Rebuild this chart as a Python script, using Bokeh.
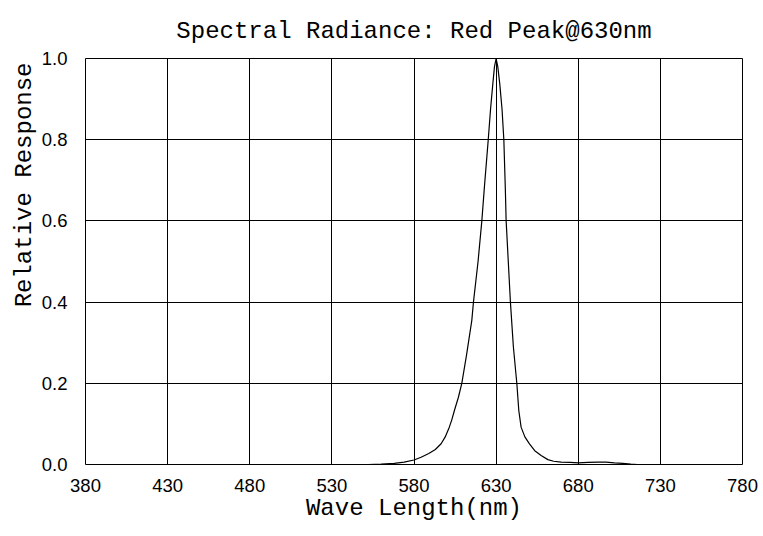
from bokeh.plotting import figure
from bokeh.models import Range1d, FixedTicker, Title
from bokeh.embed import file_html
from bokeh.resources import INLINE

title_text = "Spectral Radiance: Red Peak@630nm"
x_label = "Wave Length(nm)"
y_label = "Relative Response"
x_ticks = [380, 430, 480, 530, 580, 630, 680, 730, 780]
y_ticks = [0.0, 0.2, 0.4, 0.6, 0.8, 1.0]

wavelength = [552, 560, 568, 574, 580, 584.3, 589, 593, 596.5, 599, 601.5,
              603, 604.6, 607, 609.1, 612, 615.2, 616.2, 619, 621.3, 622.8,
              625.2, 626.6, 628, 629, 630, 631, 632.2, 633.6, 634.7, 635.6,
              636.1, 637.4, 638.7, 640.5, 642.6, 643.8, 645.2, 647.5, 650.3,
              653.5, 657.4, 661.5, 665, 669.6, 675, 680, 686, 692, 697, 702,
              707, 712, 716]
response = [0.0, 0.001, 0.003, 0.006, 0.011, 0.018, 0.027, 0.037, 0.051, 0.068,
            0.092, 0.11, 0.133, 0.165, 0.20, 0.27, 0.355, 0.40, 0.50, 0.60,
            0.68, 0.80, 0.875, 0.938, 0.98, 1.00, 0.98, 0.938, 0.875, 0.80,
            0.68, 0.60, 0.50, 0.40, 0.29, 0.20, 0.133, 0.092, 0.068, 0.051,
            0.034, 0.022, 0.012, 0.008, 0.006, 0.005, 0.004, 0.005, 0.006,
            0.006, 0.004, 0.003, 0.001, 0.0]

MONO = "Liberation Mono"
SANS = "Liberation Sans"

p = figure(width=760, height=530, output_backend="svg", toolbar_location=None,
           x_range=Range1d(380, 780), y_range=Range1d(0, 1.0),
           min_border_left=85, min_border_right=18, min_border_top=58,
           min_border_bottom=66)
p.background_fill_color = "white"
p.border_fill_color = "white"
p.outline_line_color = "black"
p.outline_line_width = 1

p.title.text = title_text
p.title.align = "center"
p.title.vertical_align = "bottom"
p.title.text_font = MONO
p.title.text_font_size = "24px"
p.title.text_font_style = "normal"
p.title.text_color = "black"
p.title.standoff = 27

xa = p.below[0]
ya = p.left[0]
xa.ticker = FixedTicker(ticks=x_ticks)
ya.ticker = FixedTicker(ticks=y_ticks)
ya.major_label_overrides = {t: f"{t:.1f}" for t in y_ticks}
for ax in (xa, ya):
    ax.axis_line_color = None
    ax.major_tick_line_color = None
    ax.minor_tick_line_color = None
    ax.major_label_text_font = SANS
    ax.major_label_text_font_size = "18.5px"
    ax.major_label_text_color = "black"
xa.major_label_standoff = 8
ya.major_label_standoff = 12

xa.axis_label = x_label
xa.axis_label_text_font = MONO
xa.axis_label_text_font_size = "24px"
xa.axis_label_text_font_style = "normal"
xa.axis_label_text_color = "black"
xa.axis_label_standoff = 0

ytitle = Title(text=y_label, align="right", offset=4, text_font=MONO,
               text_font_size="24px", text_font_style="normal",
               text_color="black", standoff=2)
p.add_layout(ytitle, "left")

p.xgrid.grid_line_color = "black"
p.ygrid.grid_line_color = "black"
p.xgrid.grid_line_width = 1
p.ygrid.grid_line_width = 1

p.line(wavelength, response, line_color="black", line_width=1.2)

open("out.html", "w").write(file_html(p, INLINE))
